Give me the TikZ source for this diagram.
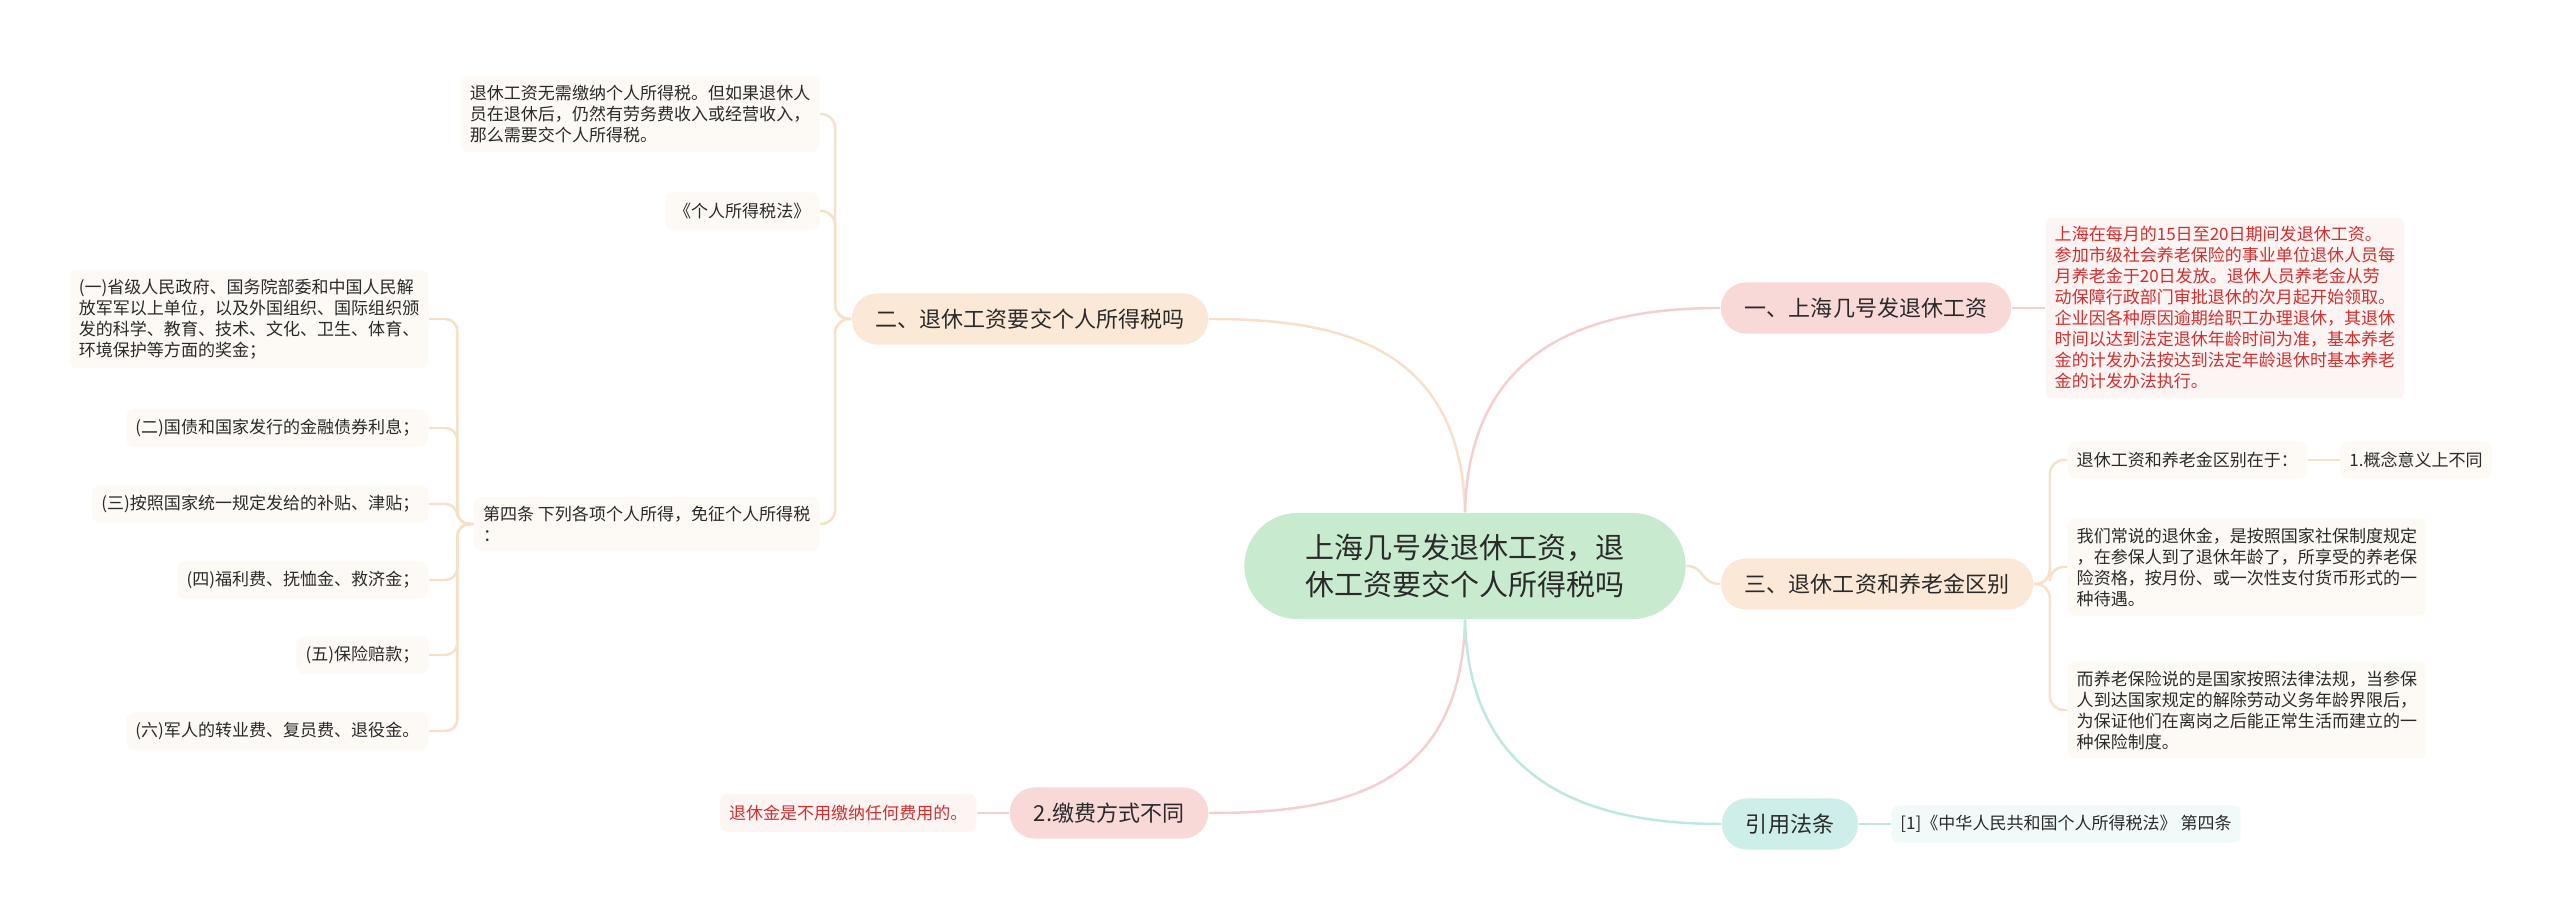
\documentclass[tikz,border=0pt]{standalone}
\usepackage{fontspec}
\setmainfont{Noto Sans CJK SC}
\usetikzlibrary{positioning}
\definecolor{rootgreen}{HTML}{C8EBD0}
\definecolor{peach}{HTML}{FCE8D6}
\definecolor{rosy}{HTML}{F9D9D8}
\definecolor{mint}{HTML}{CDEEE9}
\definecolor{cream}{HTML}{FDF9F4}
\definecolor{blush}{HTML}{FDF4F4}
\definecolor{icy}{HTML}{F2FAF9}
\definecolor{redtext}{HTML}{D42F2F}
\definecolor{inktext}{HTML}{2A2A2A}
\definecolor{peachline}{HTML}{F8E0C8}
\definecolor{rosyline}{HTML}{F5CFCF}
\definecolor{mintline}{HTML}{BDE7E0}
\newcommand{\rootfont}{\fontsize{8.25pt}{10.5pt}\selectfont}
\newcommand{\branchfont}{\fontsize{6.26pt}{7.5pt}\selectfont}
\newcommand{\leaffont}{\fontsize{4.84pt}{5.97pt}\selectfont}
\tikzset{topic/.style={fill=rootgreen,rounded corners=0.53cm,minimum width=4.41cm,
		minimum height=1.06cm,align=center,font=\rootfont,text=inktext},
	branch/.style={fill=#1,rounded corners=0.25cm,minimum height=0.51cm,inner xsep=0.24cm,
		inner ysep=0pt,font=\branchfont,text=inktext},
	branch/.default=peach,
	leaf/.style={fill=#1,rounded corners=0.07cm,inner xsep=0.09cm,inner ysep=0.09cm,
		minimum height=0.37cm,font=\leaffont,align=left,text=inktext},
	leaf/.default=cream,
	link/.style={draw=#1,line width=0.7pt},
	link/.default=peachline}

\begin{document}
\begin{tikzpicture}[x=0.01cm,y=-0.01cm]

		\path[use as bounding box,fill=white] (0,0) rectangle (2560,922);

		\coordinate (R) at (1465,566);
		\coordinate (B1) at (1866,308);
		\coordinate (B2) at (1030,319);
		\coordinate (B3) at (1877,584);
		\coordinate (B4) at (1109,813);
		\coordinate (B5) at (1790,824);

		\node [topic] (root) at (R)
			{上海几号发退休工资，退\\休工资要交个人所得税吗};

		\node [branch=rosy] (payday) at (B1) {一、上海几号发退休工资};
		\node [branch] (taxq) at (B2) {二、退休工资要交个人所得税吗};
		\node [branch] (diff) at (B3) {三、退休工资和养老金区别};
		\node [branch=rosy] (payway) at (B4) {2.缴费方式不同};
		\node [branch=mint] (cite) at (B5) {引用法条};

		\node [leaf=blush,text=redtext,anchor=west] (paydate) at (2045,308)
			{上海在每月的15日至20日期间发退休工资。\\
			参加市级社会养老保险的事业单位退休人员每\\
			月养老金于20日发放。退休人员养老金从劳\\
			动保障行政部门审批退休的次月起开始领取。\\
			企业因各种原因逾期给职工办理退休，其退休\\
			时间以达到法定退休年龄时间为准，基本养老\\
			金的计发办法按达到法定年龄退休时基本养老\\
			金的计发办法执行。};

		\node [leaf,anchor=east] (notax) at (820,114)
			{退休工资无需缴纳个人所得税。但如果退休人\\
			员在退休后，仍然有劳务费收入或经营收入，\\
			那么需要交个人所得税。};
		\node [leaf,anchor=east] (taxlaw) at (820,211) {《个人所得税法》};
		\node [leaf,anchor=east] (art4) at (820,524)
			{第四条 下列各项个人所得，免征个人所得税\\：};

		\node [leaf,anchor=east] (ex1) at (429,319)
			{(一)省级人民政府、国务院部委和中国人民解\\
			放军军以上单位，以及外国组织、国际组织颁\\
			发的科学、教育、技术、文化、卫生、体育、\\
			环境保护等方面的奖金；};
		\node [leaf,anchor=east] (ex2) at (429,428) {(二)国债和国家发行的金融债券利息；};
		\node [leaf,anchor=east] (ex3) at (429,504) {(三)按照国家统一规定发给的补贴、津贴；};
		\node [leaf,anchor=east] (ex4) at (429,580) {(四)福利费、抚恤金、救济金；};
		\node [leaf,anchor=east] (ex5) at (429,655) {(五)保险赔款；};
		\node [leaf,anchor=east] (ex6) at (429,731) {(六)军人的转业费、复员费、退役金。};

		\node [leaf,anchor=west] (diffin) at (2067,460) {退休工资和养老金区别在于：};
		\node [leaf,right=0.32cm of diffin] (concept) {1.概念意义上不同};
		\node [leaf,anchor=west] (pension) at (2067,567)
			{我们常说的退休金，是按照国家社保制度规定\\
			，在参保人到了退休年龄了，所享受的养老保\\
			险资格，按月份、或一次性支付货币形式的一\\
			种待遇。};
		\node [leaf,anchor=west] (insure) at (2067,710)
			{而养老保险说的是国家按照法律法规，当参保\\
			人到达国家规定的解除劳动义务年龄界限后，\\
			为保证他们在离岗之后能正常生活而建立的一\\
			种保险制度。};

		\node [leaf=blush,text=redtext,left=0.32cm of payway] (nofee)
			{退休金是不用缴纳任何费用的。};
		\node [leaf=icy,right=0.32cm of cite] (lawref)
			{[1]《中华人民共和国个人所得税法》 第四条};

		\draw [link] (root.north) .. controls (1461,340) and (1330,319) .. (taxq.east);
		\draw [link=rosyline] (root.north) .. controls (1469,340) and (1600,308) .. (payday.west);
		\draw [link] (root.east) .. controls (1705,566) and (1700,584) .. (diff.west);
		\draw [link=rosyline] (root.south) .. controls (1461,790) and (1340,813) .. (payway.east);
		\draw [link=mintline] (root.south) .. controls (1469,790) and (1600,824) .. (cite.west);

		\draw [link=rosyline] (payday.east) -- (paydate.west);
		\draw [link=rosyline] (payway.west) -- (nofee.east);
		\draw [link=mintline] (cite.east) -- (lawref.west);
		\draw [link] (diffin.east) -- (concept.west);

		\foreach \leafname in {notax,taxlaw,art4}
			\draw [link,rounded corners=0.14cm] (taxq.west) -- ++(-16,0) |- (\leafname.east);
		\foreach \leafname in {ex1,ex2,ex3,ex4,ex5,ex6}
			\draw [link,rounded corners=0.12cm] (art4.west) -- ++(-16,0) |- (\leafname.east);
		\foreach \leafname in {diffin,pension,insure}
			\draw [link,rounded corners=0.14cm] (diff.east) -- ++(16,0) |- (\leafname.west);

	\end{tikzpicture}
\end{document}
